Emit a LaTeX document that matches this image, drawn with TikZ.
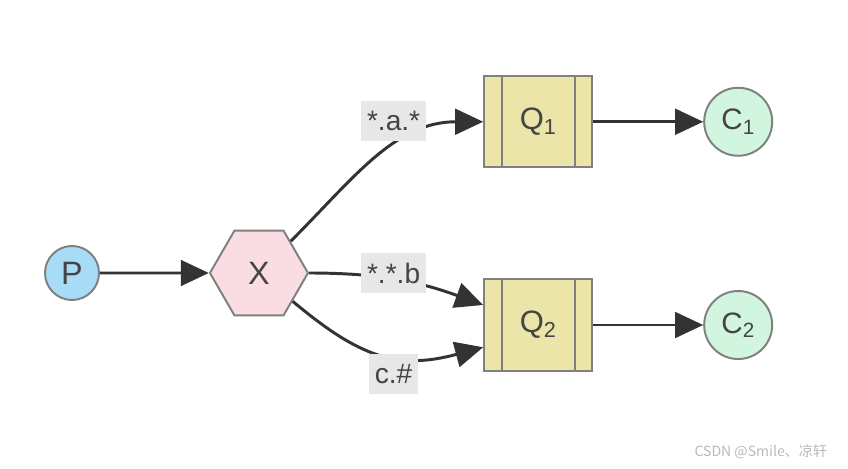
\documentclass[tikz,border=0pt]{standalone}
\usepackage{fontspec}
\setmainfont{Liberation Sans}
\newfontfamily\cjk{Noto Sans CJK SC}
\usetikzlibrary{positioning,arrows.meta,shapes.geometric}
\definecolor{borde}{RGB}{128,128,128}
\definecolor{texto}{RGB}{68,68,68}
\definecolor{flechagris}{RGB}{51,51,51}
\definecolor{azulp}{RGB}{168,220,246}
\definecolor{rosax}{RGB}{250,221,227}
\definecolor{amarilloq}{RGB}{235,229,169}
\definecolor{verdec}{RGB}{210,245,224}
\definecolor{grisetiq}{RGB}{231,231,231}
\definecolor{marcagua}{RGB}{185,185,185}

\begin{document}
\begin{tikzpicture}[x=0.025cm, y=0.025cm,
  productor/.style={circle, draw=borde, line width=1.4pt, fill=azulp,
                    minimum size=1.35cm, inner sep=0pt, text=texto,
                    font=\fontsize{23}{25}\selectfont},
  intercambio/.style={regular polygon, regular polygon sides=6, draw=borde,
                      line width=1.4pt, fill=rosax, minimum size=2.45cm,
                      inner sep=0pt, text=texto, font=\fontsize{23}{25}\selectfont},
  cola/.style={rectangle, draw=borde, line width=1.4pt, fill=amarilloq,
               minimum width=2.7cm, minimum height=2.28cm, text=texto,
               font=\fontsize{22}{24}\selectfont,
               path picture={
                 \draw[borde, line width=1.4pt]
                   ([xshift=0.45cm]path picture bounding box.north west) --
                   ([xshift=0.45cm]path picture bounding box.south west);
                 \draw[borde, line width=1.4pt]
                   ([xshift=-0.43cm]path picture bounding box.north east) --
                   ([xshift=-0.43cm]path picture bounding box.south east);}},
  consumidor/.style={circle, draw=borde, line width=1.4pt, fill=verdec,
                     minimum size=1.7cm, inner sep=0pt, text=texto,
                     font=\fontsize{21}{23}\selectfont},
  etiqueta/.style={fill=grisetiq, minimum height=1cm, inner xsep=0.14cm,
                   text=texto, font=\fontsize{20}{22}\selectfont},
  flecha/.style={-{Triangle[length=0.7cm, width=0.64cm]}, line width=2.1pt,
                 color=flechagris}]
  \useasboundingbox (0,0) rectangle (848,468);
  \node[productor] (p) at (72,195) {P};
  \node[intercambio, right=2.72cm of p] (x) {X};
  \node[cola, right=4.35cm of x, yshift=3.78cm] (q1) {Q\textsubscript{1}};
  \node[cola, right=4.35cm of x, yshift=-1.3cm] (q2) {Q\textsubscript{2}};
  \node[consumidor, right=2.75cm of q1] (c1) {C\textsubscript{1}};
  \node[consumidor, right=2.75cm of q2] (c2) {C\textsubscript{2}};
  \draw[flecha] (p) -- (x);
  \draw[flecha] (x) to[out=45, in=180] (q1);
  \draw[flecha] (x) to[out=0, in=160] (q2.160);
  \draw[flecha] (x) to[out=-40, in=195, looseness=1.15] (q2.202);
  \draw[flecha] (q1) -- (c1);
  \draw[flecha] (q2) -- (c2);
  % claves de enrutamiento
  \node[etiqueta, right=1.3cm of x] (kb) {*.*.b};
  \node[etiqueta, above=2.78cm of kb] (ka) {*.a.*};
  \node[etiqueta, below=1.5cm of kb] (kc) {c.\#};
  \node[font=\cjk\fontsize{10}{12}\selectfont, text=marcagua, anchor=east]
    (marca) at (832,16) {CSDN @Smile、凉轩};
\end{tikzpicture}
\end{document}
